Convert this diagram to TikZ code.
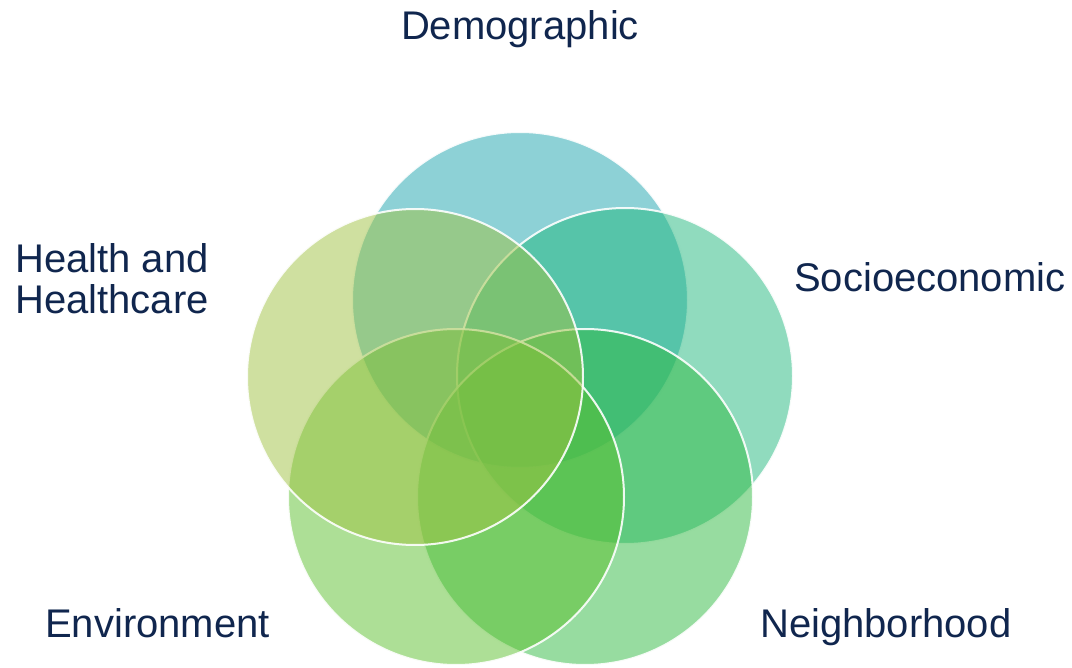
\documentclass[tikz,border=0pt]{standalone}
\usepackage{fontspec}
\setmainfont{Liberation Sans}
\definecolor{cdemo}{RGB}{27,163,173}
\definecolor{csocio}{RGB}{33,183,125}
\definecolor{cneigh}{RGB}{47,185,65}
\definecolor{cenv}{RGB}{91,191,45}
\definecolor{chealth}{RGB}{159,193,65}
\definecolor{ctext}{RGB}{16,38,78}
\begin{document}
\begin{tikzpicture}[x=1pt,y=-1pt,
  venn/.style={circle, minimum size=336pt, inner sep=0pt, fill opacity=0.5, draw=white, draw opacity=0.9, line width=2pt},
  lbl/.style={text=ctext, font=\fontsize{40}{41}\selectfont, inner sep=0pt, anchor=base west}]
\useasboundingbox (0,0) rectangle (1072,668);
\node[venn, fill=cdemo] (demo) at (520,300) {};
\node[venn, fill=csocio] (socio) at (625,376) {};
\node[venn, fill=cneigh] (neigh) at (585,497) {};
\node[venn, fill=cenv] (env) at (456,497) {};
\node[venn, fill=chealth] (health) at (415,377) {};
\node[lbl, anchor=base] (tdemo) at (520,40) {Demographic};
\node[lbl] (thealth1) at (15,273) {Health and};
\node[lbl] (thealth2) at (15,314) {Healthcare};
\node[lbl] (tsocio) at (794,292) {Socioeconomic};
\node[lbl] (tneigh) at (760,637) {Neighborhood};
\node[lbl] (tenv) at (45,637) {Environment};
\end{tikzpicture}
\end{document}
